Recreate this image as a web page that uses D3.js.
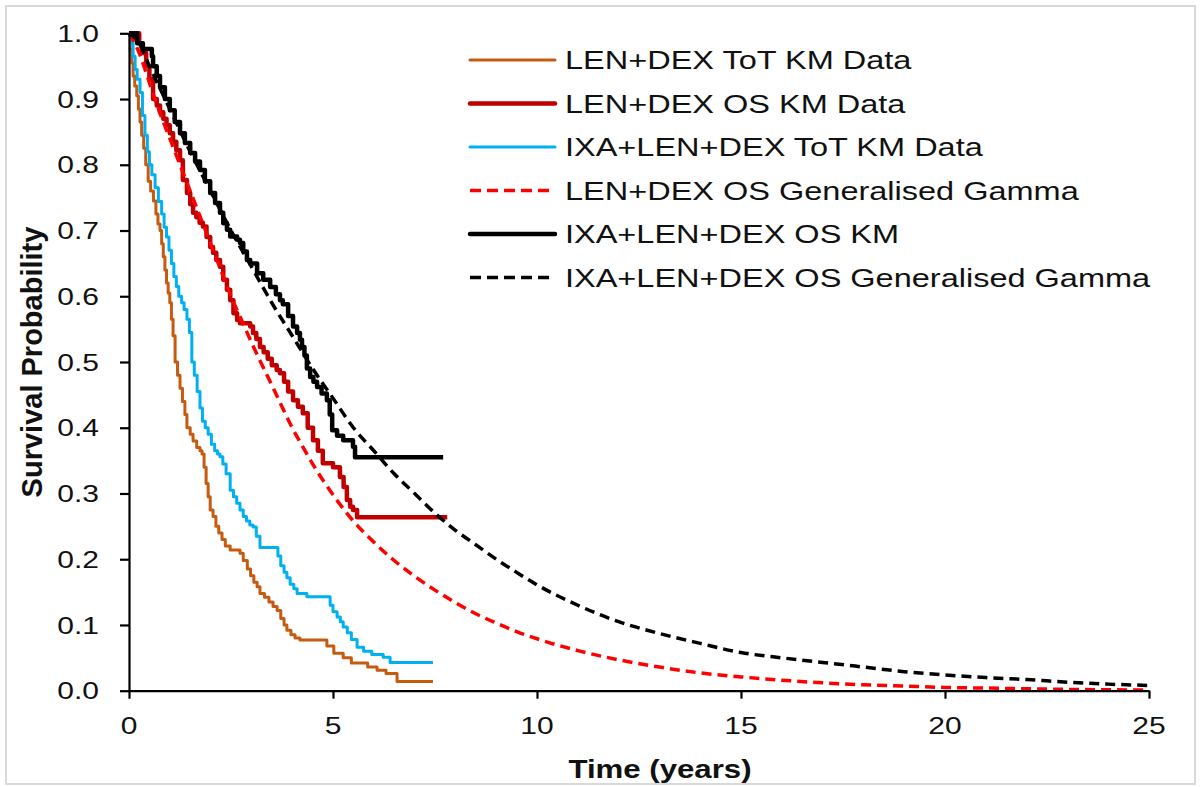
<!DOCTYPE html>
<html>
<head>
<meta charset="utf-8">
<script src="https://cdn.jsdelivr.net/npm/d3@7"></script>
<style>
  html, body { margin: 0; padding: 0; background: #fff; }
  svg { display: block; font-family: "Liberation Sans", Arial, sans-serif; }
</style>
</head>
<body>
<script>
// Kaplan-Meier step data (time in years, survival probability)
const totLenTime = [0, 0.03, 0.07, 0.1, 0.14, 0.19, 0.23, 0.27, 0.31, 0.36, 0.41, 0.47, 0.53, 0.6, 0.66, 0.71, 0.76, 0.8, 0.84, 0.88, 0.92, 0.96, 1.0, 1.04, 1.08, 1.13, 1.19, 1.25, 1.31, 1.37, 1.42, 1.5, 1.57, 1.66, 1.74, 1.79, 1.84, 1.89, 1.94, 1.99, 2.06, 2.13, 2.2, 2.28, 2.36, 2.48, 2.72, 2.8, 2.9, 2.98, 3.06, 3.14, 3.21, 3.32, 3.43, 3.53, 3.63, 3.72, 3.8, 3.87, 3.97, 4.07, 4.19, 4.85, 5.02, 5.25, 5.45, 5.85, 6.08, 6.3, 6.57, 7.45];
const totLenSurv = [1.0, 0.975, 0.955, 0.935, 0.92, 0.905, 0.885, 0.865, 0.845, 0.825, 0.8, 0.775, 0.76, 0.745, 0.725, 0.71, 0.7, 0.68, 0.66, 0.64, 0.62, 0.605, 0.59, 0.565, 0.54, 0.5, 0.48, 0.46, 0.44, 0.42, 0.4, 0.39, 0.38, 0.37, 0.365, 0.36, 0.34, 0.315, 0.295, 0.275, 0.265, 0.25, 0.24, 0.23, 0.22, 0.214, 0.209, 0.198, 0.185, 0.175, 0.165, 0.158, 0.148, 0.142, 0.135, 0.128, 0.122, 0.11, 0.1, 0.092, 0.085, 0.08, 0.077, 0.068, 0.057, 0.05, 0.042, 0.036, 0.031, 0.026, 0.014, 0.014];

const osLenTime = [0, 0.25, 0.31, 0.42, 0.5, 0.59, 0.68, 0.76, 0.84, 0.92, 1.0, 1.08, 1.16, 1.25, 1.32, 1.42, 1.5, 1.57, 1.65, 1.73, 1.81, 1.9, 1.99, 2.06, 2.14, 2.23, 2.31, 2.4, 2.48, 2.56, 2.65, 2.72, 2.97, 3.04, 3.12, 3.21, 3.3, 3.4, 3.5, 3.62, 3.7, 3.8, 3.9, 4.02, 4.14, 4.26, 4.38, 4.51, 4.63, 4.75, 5.0, 5.17, 5.26, 5.34, 5.42, 5.49, 5.59, 7.8];
const osLenSurv = [1.0, 0.985, 0.97, 0.95, 0.93, 0.9, 0.89, 0.88, 0.87, 0.86, 0.848, 0.835, 0.822, 0.807, 0.777, 0.757, 0.74, 0.727, 0.72, 0.712, 0.706, 0.69, 0.675, 0.666, 0.655, 0.645, 0.625, 0.61, 0.594, 0.574, 0.564, 0.559, 0.554, 0.544, 0.535, 0.523, 0.515, 0.505, 0.495, 0.488, 0.483, 0.47, 0.455, 0.442, 0.432, 0.422, 0.4, 0.381, 0.365, 0.346, 0.34, 0.325, 0.31, 0.29, 0.28, 0.275, 0.264, 0.264];

const totIxaTime = [0, 0.05, 0.1, 0.15, 0.2, 0.27, 0.33, 0.39, 0.45, 0.5, 0.56, 0.64, 0.72, 0.8, 0.86, 0.92, 0.98, 1.04, 1.1, 1.16, 1.22, 1.29, 1.35, 1.42, 1.48, 1.54, 1.6, 1.67, 1.74, 1.8, 1.87, 1.94, 2.02, 2.1, 2.17, 2.23, 2.3, 2.38, 2.48, 2.56, 2.64, 2.72, 2.8, 2.88, 2.96, 3.04, 3.12, 3.21, 3.65, 3.72, 3.8, 3.87, 3.95, 4.04, 4.12, 4.36, 4.93, 5.0, 5.1, 5.18, 5.25, 5.35, 5.45, 5.59, 5.75, 5.95, 6.23, 6.4, 7.45];
const totIxaSurv = [1.0, 0.985, 0.965, 0.945, 0.93, 0.91, 0.875, 0.845, 0.82, 0.8, 0.785, 0.765, 0.744, 0.725, 0.705, 0.69, 0.67, 0.65, 0.63, 0.615, 0.6, 0.59, 0.58, 0.565, 0.545, 0.5, 0.48, 0.455, 0.43, 0.41, 0.4, 0.39, 0.375, 0.365, 0.36, 0.356, 0.345, 0.33, 0.305, 0.295, 0.285, 0.275, 0.265, 0.258, 0.252, 0.249, 0.235, 0.218, 0.205, 0.19, 0.18, 0.172, 0.162, 0.155, 0.148, 0.143, 0.13, 0.12, 0.112, 0.105, 0.097, 0.088, 0.078, 0.066, 0.06, 0.055, 0.051, 0.043, 0.043];

const osIxaTime = [0, 0.2, 0.34, 0.56, 0.59, 0.68, 0.76, 0.88, 1.0, 1.12, 1.25, 1.37, 1.5, 1.62, 1.74, 1.86, 1.99, 2.11, 2.23, 2.31, 2.4, 2.48, 2.65, 2.72, 2.8, 2.89, 2.97, 3.14, 3.29, 3.46, 3.6, 3.7, 3.77, 3.9, 4.02, 4.12, 4.19, 4.24, 4.3, 4.36, 4.44, 4.52, 4.61, 4.72, 4.85, 4.92, 4.98, 5.1, 5.25, 5.49, 5.54, 7.7];
const osIxaSurv = [1.0, 0.985, 0.976, 0.965, 0.95, 0.935, 0.918, 0.9, 0.883, 0.865, 0.848, 0.833, 0.818, 0.805, 0.792, 0.775, 0.757, 0.742, 0.727, 0.711, 0.701, 0.691, 0.686, 0.681, 0.668, 0.655, 0.65, 0.635, 0.625, 0.614, 0.603, 0.594, 0.588, 0.57, 0.554, 0.544, 0.534, 0.523, 0.51, 0.49, 0.477, 0.47, 0.462, 0.452, 0.442, 0.42, 0.396, 0.388, 0.381, 0.371, 0.355, 0.355];

// Generalised gamma fitted curves (sampled)
const ggLenTime = [0, 0.25, 0.5, 0.75, 1, 1.25, 1.5, 1.75, 2, 2.25, 2.5, 2.75, 3, 3.25, 3.5, 3.75, 4, 4.25, 4.5, 5, 5.5, 6, 6.5, 7, 7.5, 8, 8.5, 9, 9.5, 10, 11, 12, 13, 14, 15, 16, 17, 18, 19, 20, 21, 22, 23, 25];
const ggLenSurv = [1.0, 0.97, 0.925, 0.88, 0.84, 0.8, 0.76, 0.72, 0.68, 0.64, 0.6, 0.565, 0.53, 0.497, 0.465, 0.432, 0.4, 0.372, 0.345, 0.298, 0.258, 0.226, 0.198, 0.174, 0.153, 0.134, 0.117, 0.103, 0.09, 0.079, 0.061, 0.047, 0.036, 0.027, 0.021, 0.016, 0.012, 0.009, 0.007, 0.005, 0.004, 0.003, 0.002, 0.001];

const ggIxaTime = [0, 0.25, 0.5, 1, 1.5, 2, 2.5, 3, 3.5, 4, 4.5, 5, 5.5, 6, 6.5, 7, 7.5, 8, 8.5, 9, 9.5, 10, 11, 12, 13, 14, 15, 16, 17, 18, 19, 20, 21, 22, 23, 24, 25];
const ggIxaSurv = [1.0, 0.985, 0.95, 0.885, 0.82, 0.76, 0.7, 0.645, 0.59, 0.54, 0.49, 0.445, 0.4, 0.365, 0.33, 0.3, 0.27, 0.244, 0.222, 0.2, 0.18, 0.161, 0.13, 0.105, 0.087, 0.072, 0.058, 0.05, 0.043, 0.036, 0.029, 0.024, 0.02, 0.017, 0.013, 0.01, 0.008];

// Axis ticks and legend labels
const xTicks = [0, 5, 10, 15, 20, 25];
const yTicks = [0, 0.1, 0.2, 0.3, 0.4, 0.5, 0.6, 0.7, 0.8, 0.9, 1.0];
const seriesLabels = [
  "LEN+DEX ToT KM Data",
  "LEN+DEX OS KM Data",
  "IXA+LEN+DEX ToT KM Data",
  "LEN+DEX OS Generalised Gamma",
  "IXA+LEN+DEX OS KM",
  "IXA+LEN+DEX OS Generalised Gamma"
];

const zip = (t, s) => t.map((v, i) => ({ t: v, s: s[i] }));

const series = [
  { data: zip(totLenTime, totLenSurv), color: "#c55a11", width: 3, dash: null, step: true },
  { data: zip(osLenTime, osLenSurv), color: "#c00000", width: 4.5, dash: null, step: true },
  { data: zip(totIxaTime, totIxaSurv), color: "#00b0f0", width: 3, dash: null, step: true },
  { data: zip(ggLenTime, ggLenSurv), color: "#ff0000", width: 3.5, dash: "10,6", step: false },
  { data: zip(osIxaTime, osIxaSurv), color: "#000000", width: 4.5, dash: null, step: true },
  { data: zip(ggIxaTime, ggIxaSurv), color: "#000000", width: 3.5, dash: "10,6", step: false }
];

const W = 1201, H = 787;
const svg = d3.select("body").append("svg").attr("width", W).attr("height", H);

// chart frame
svg.append("rect")
  .attr("x", 6).attr("y", 6).attr("width", 1189).attr("height", 778)
  .attr("fill", "#fff").attr("stroke", "#d9d9d9").attr("stroke-width", 2);

const x = d3.scaleLinear().domain([0, 25]).range([129, 1149]);
const y = d3.scaleLinear().domain([0, 1]).range([690.7, 33.3]);

const SX = 1.25; // horizontal stretch applied to the label text

// curves
const stepLine = d3.line().x(d => x(d.t)).y(d => y(d.s)).curve(d3.curveStepAfter);
const smoothLine = d3.line().x(d => x(d.t)).y(d => y(d.s)).curve(d3.curveMonotoneX);

const plot = svg.append("g");
series.forEach(sr => {
  plot.append("path")
    .attr("d", (sr.step ? stepLine : smoothLine)(sr.data))
    .attr("fill", "none")
    .attr("stroke", sr.color)
    .attr("stroke-width", sr.width)
    .attr("stroke-linejoin", "round")
    .attr("stroke-dasharray", sr.dash);
});

// axes
const yAxis = d3.axisLeft(y).tickValues(yTicks).tickSize(9).tickSizeOuter(0).tickFormat("");
const xAxis = d3.axisBottom(x).tickValues(xTicks).tickSize(8).tickSizeOuter(0).tickFormat("");

const gy = svg.append("g").attr("transform", "translate(129,0)").call(yAxis);
const gx = svg.append("g").attr("transform", "translate(0,690.7)").call(xAxis);
[gy, gx].forEach(g => {
  g.selectAll("path.domain").attr("stroke", "#000").attr("stroke-width", 2.2);
  g.selectAll(".tick line").attr("stroke", "#000").attr("stroke-width", 2.2);
});

// tick labels
svg.append("g").selectAll("text").data(yTicks).join("text")
  .attr("transform", d => `translate(99,${y(d)}) scale(${SX},1)`)
  .attr("dy", "0.36em")
  .attr("text-anchor", "end")
  .attr("font-size", 24)
  .attr("fill", "#111")
  .text(d => d.toFixed(1));

svg.append("g").selectAll("text").data(xTicks).join("text")
  .attr("transform", d => `translate(${x(d)},734) scale(${SX},1)`)
  .attr("text-anchor", "middle")
  .attr("font-size", 24)
  .attr("fill", "#111")
  .text(d => d);

// axis titles
svg.append("text")
  .attr("transform", `translate(660,778) scale(1.2,1)`)
  .attr("text-anchor", "middle")
  .attr("font-size", 26)
  .attr("font-weight", "bold")
  .attr("fill", "#111")
  .text("Time (years)");

svg.append("text")
  .attr("transform", "translate(42,362) rotate(-90)")
  .attr("text-anchor", "middle")
  .attr("font-size", 29)
  .attr("font-weight", "bold")
  .attr("fill", "#111")
  .text("Survival Probability");

// legend
const legend = svg.append("g");
const rowY = i => 60 + i * 43.5;
series.forEach((sr, i) => {
  legend.append("line")
    .attr("x1", 470).attr("x2", 555)
    .attr("y1", rowY(i)).attr("y2", rowY(i))
    .attr("stroke", sr.color)
    .attr("stroke-width", sr.width)
    .attr("stroke-linecap", sr.dash ? "butt" : "round")
    .attr("stroke-dasharray", sr.dash ? "11,6" : null);
  legend.append("text")
    .attr("transform", `translate(565,${rowY(i)}) scale(${SX},1)`)
    .attr("dy", "0.36em")
    .attr("font-size", 26)
    .attr("fill", "#111")
    .text(seriesLabels[i]);
});
</script>
</body>
</html>
